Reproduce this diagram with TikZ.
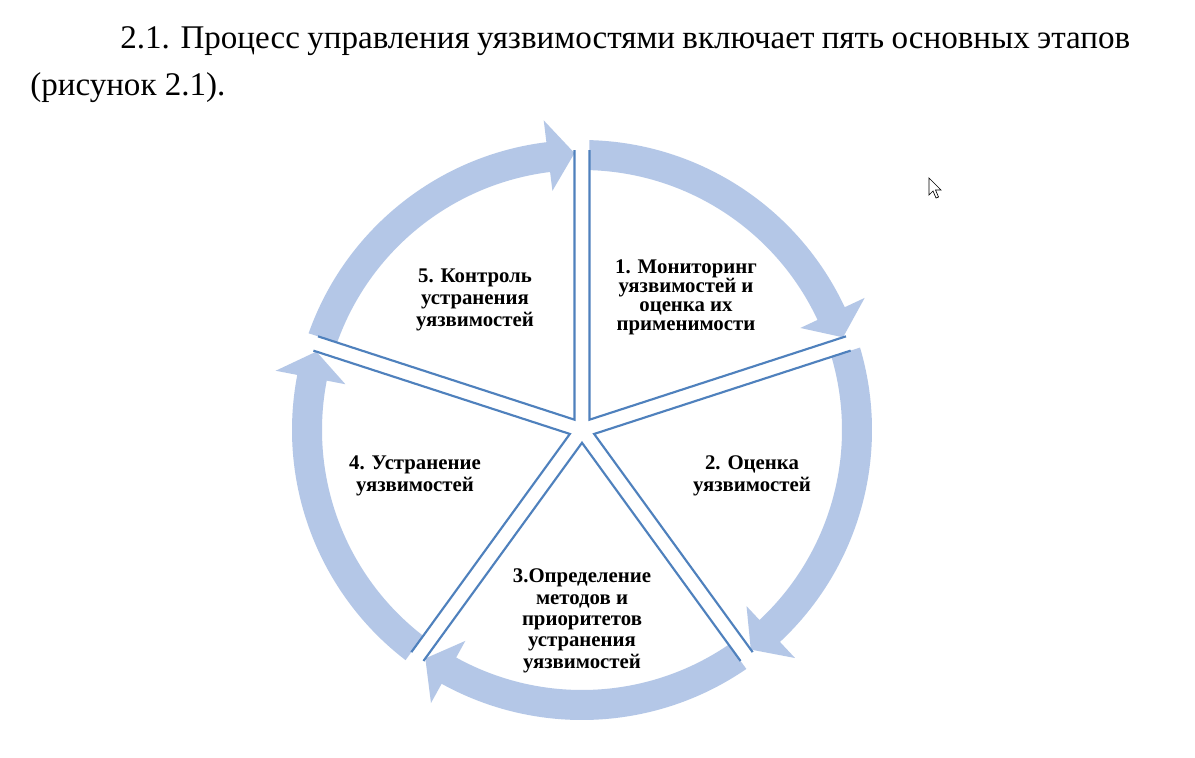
\documentclass[tikz,border=0pt]{standalone}
\usepackage{fontspec}
\setmainfont{Liberation Serif}
\usetikzlibrary{calc}
\definecolor{arrowblue}{RGB}{180,199,231}
\definecolor{lineblue}{RGB}{79,129,189}
\begin{document}
\begin{tikzpicture}[x=0.75pt,y=0.75pt,
  sectorline/.style={draw=lineblue,line width=1.6pt,line join=miter},
  cyclearrow/.style={fill=arrowblue,draw=none},
  stagetext/.style={font=\bfseries\fontsize{15.6}{15}\selectfont,align=center,text=black,inner sep=0pt},
  headtext/.style={font=\fontsize{24.8}{30}\selectfont,inner sep=0pt}]
\useasboundingbox (0,0) rectangle (1195,-757);
\fill[white] (0,0) rectangle (1195,-757);
\coordinate (C) at (582,-430);
% cycle arrows
\foreach \t in {162,90,18,-54,-126}{
  \pgfmathsetmacro{\ta}{\t-1.48}
  \pgfmathsetmacro{\tb}{\t-1.65}
  \pgfmathsetmacro{\tt}{\t-72+1.55}
  \pgfmathsetmacro{\tbase}{\tt+5.5}
  \path[cyclearrow] ($(C)+(\ta:290)$) arc[start angle=\ta,end angle=\tbase,radius=217.5pt]
    -- ($(C)+(\tbase:312)$) -- ($(C)+(\tt:277)$) -- ($(C)+(\tbase:241)$)
    -- ($(C)+(\tbase:260)$) arc[start angle=\tbase,end angle=\tb,radius=195pt] -- cycle;
}
% sectors
\foreach \t in {162,90,18,-54,-126}{
  \pgfmathsetmacro{\tm}{\t-36}
  \pgfmathsetmacro{\tn}{\t-72}
  \draw[sectorline] ($(C)+(\t:280)+(\t-90:7.5)$) -- ($(C)+(\tm:12.76)$) -- ($(C)+(\tn:280)+(\tn+90:7.5)$);
}
% labels
\node[stagetext,font=\bfseries\fontsize{15.6}{14.3}\selectfont] (l1) at (686,-297) {1. Мониторинг\\уязвимостей и\\оценка их\\применимости};
\node[stagetext,font=\bfseries\fontsize{15.6}{16.5}\selectfont] (l2) at (752,-476) {2. Оценка\\уязвимостей};
\node[stagetext,font=\bfseries\fontsize{15.6}{16}\selectfont] (l3) at (582,-621) {3.Определение\\методов и\\приоритетов\\устранения\\уязвимостей};
\node[stagetext,font=\bfseries\fontsize{15.6}{16.5}\selectfont] (l4) at (415,-476) {4. Устранение\\уязвимостей};
\node[stagetext,font=\bfseries\fontsize{15.6}{16.8}\selectfont] (l5) at (475,-300) {5. Контроль\\устранения\\уязвимостей};
% header text
\node[headtext,anchor=base west] (h1) at (120,-48) {\makebox[757.5pt][s]{2.1. Процесс управления уязвимостями включает пять основных этапов}};
\node[headtext,anchor=base west] (h2) at (30,-95) {(рисунок 2.1).};
% mouse cursor
\draw[black,line width=0.5pt,fill=white,line join=miter] (929,-178) -- (929,-195) -- (933,-191) -- (936,-198) -- (938.5,-197) -- (935.5,-190) -- (941,-190) -- cycle;
\end{tikzpicture}
\end{document}
